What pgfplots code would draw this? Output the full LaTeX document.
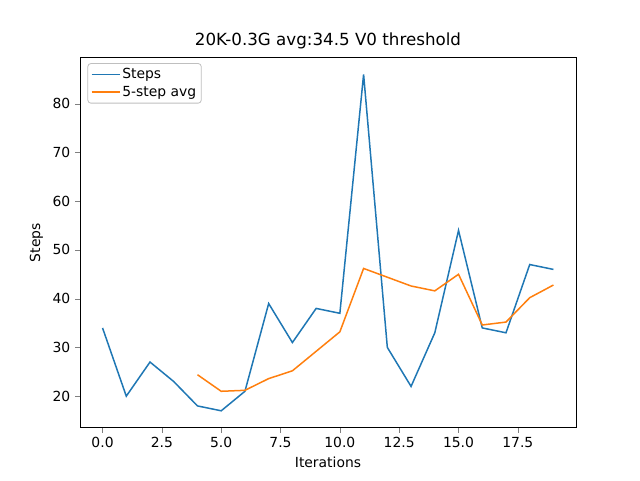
\documentclass[border=0pt]{standalone}
\usepackage{pgfplots}
\pgfplotsset{compat=1.18}
\usepackage{fontspec}
\setmainfont{DejaVu Sans}
\definecolor{c1}{HTML}{1F77B4}
\definecolor{c2}{HTML}{FF7F0E}
\begin{document}
\fontsize{13.9bp}{16bp}\selectfont
\begin{tikzpicture}
\begin{axis}[
  scale only axis, width=496bp, height=370bp,
  xmin=-0.95, xmax=19.95, ymin=13.55, ymax=89.45,
  xtick={0,2.5,5,7.5,10,12.5,15,17.5},
  xticklabels={0.0,2.5,5.0,7.5,10.0,12.5,15.0,17.5},
  ytick={20,30,40,50,60,70,80},
  /pgf/number format/assume math mode=true,
  tick align=outside, tick pos=left,
  major tick length=4.9bp,
  ticklabel style={font=\fontsize{13.9bp}{16bp}\selectfont},
  title={20K-0.3G avg:34.5 V0 threshold},
  title style={font=\fontsize{16.7bp}{19bp}\selectfont, yshift=-2bp},
  xlabel={Iterations}, ylabel={Steps},
  label style={font=\fontsize{13.9bp}{16bp}\selectfont},
  legend style={at={(0.015,0.985)}, anchor=north west, font=\fontsize{13.9bp}{16bp}\selectfont, draw=black!25, line width=0.8bp, rounded corners=3pt, row sep=1bp, inner sep=3bp},
  legend image code/.code={\draw[#1, line width=1.5bp] (0cm,0cm) -- (28bp,0cm);},
  legend cell align=left,
  every axis plot/.append style={line width=1.5bp},
]
\addplot[c1, no marks] coordinates {(0,34)(1,20)(2,27)(3,23)(4,18)(5,17)(6,21)(7,39)(8,31)(9,38)(10,37)(11,86)(12,30)(13,22)(14,33)(15,54)(16,34)(17,33)(18,47)(19,46)};
\addlegendentry{Steps}
\addplot[c2, no marks] coordinates {(4,24.4)(5,21)(6,21.2)(7,23.6)(8,25.2)(9,29.2)(10,33.2)(11,46.2)(12,44.4)(13,42.6)(14,41.6)(15,45)(16,34.6)(17,35.2)(18,40.2)(19,42.8)};
\addlegendentry{5-step avg}
\end{axis}
\path ([shift={(-80bp,-52.8bp)}]current axis.south west) rectangle ([shift={(64bp,57.6bp)}]current axis.north east);
\end{tikzpicture}
\end{document}
